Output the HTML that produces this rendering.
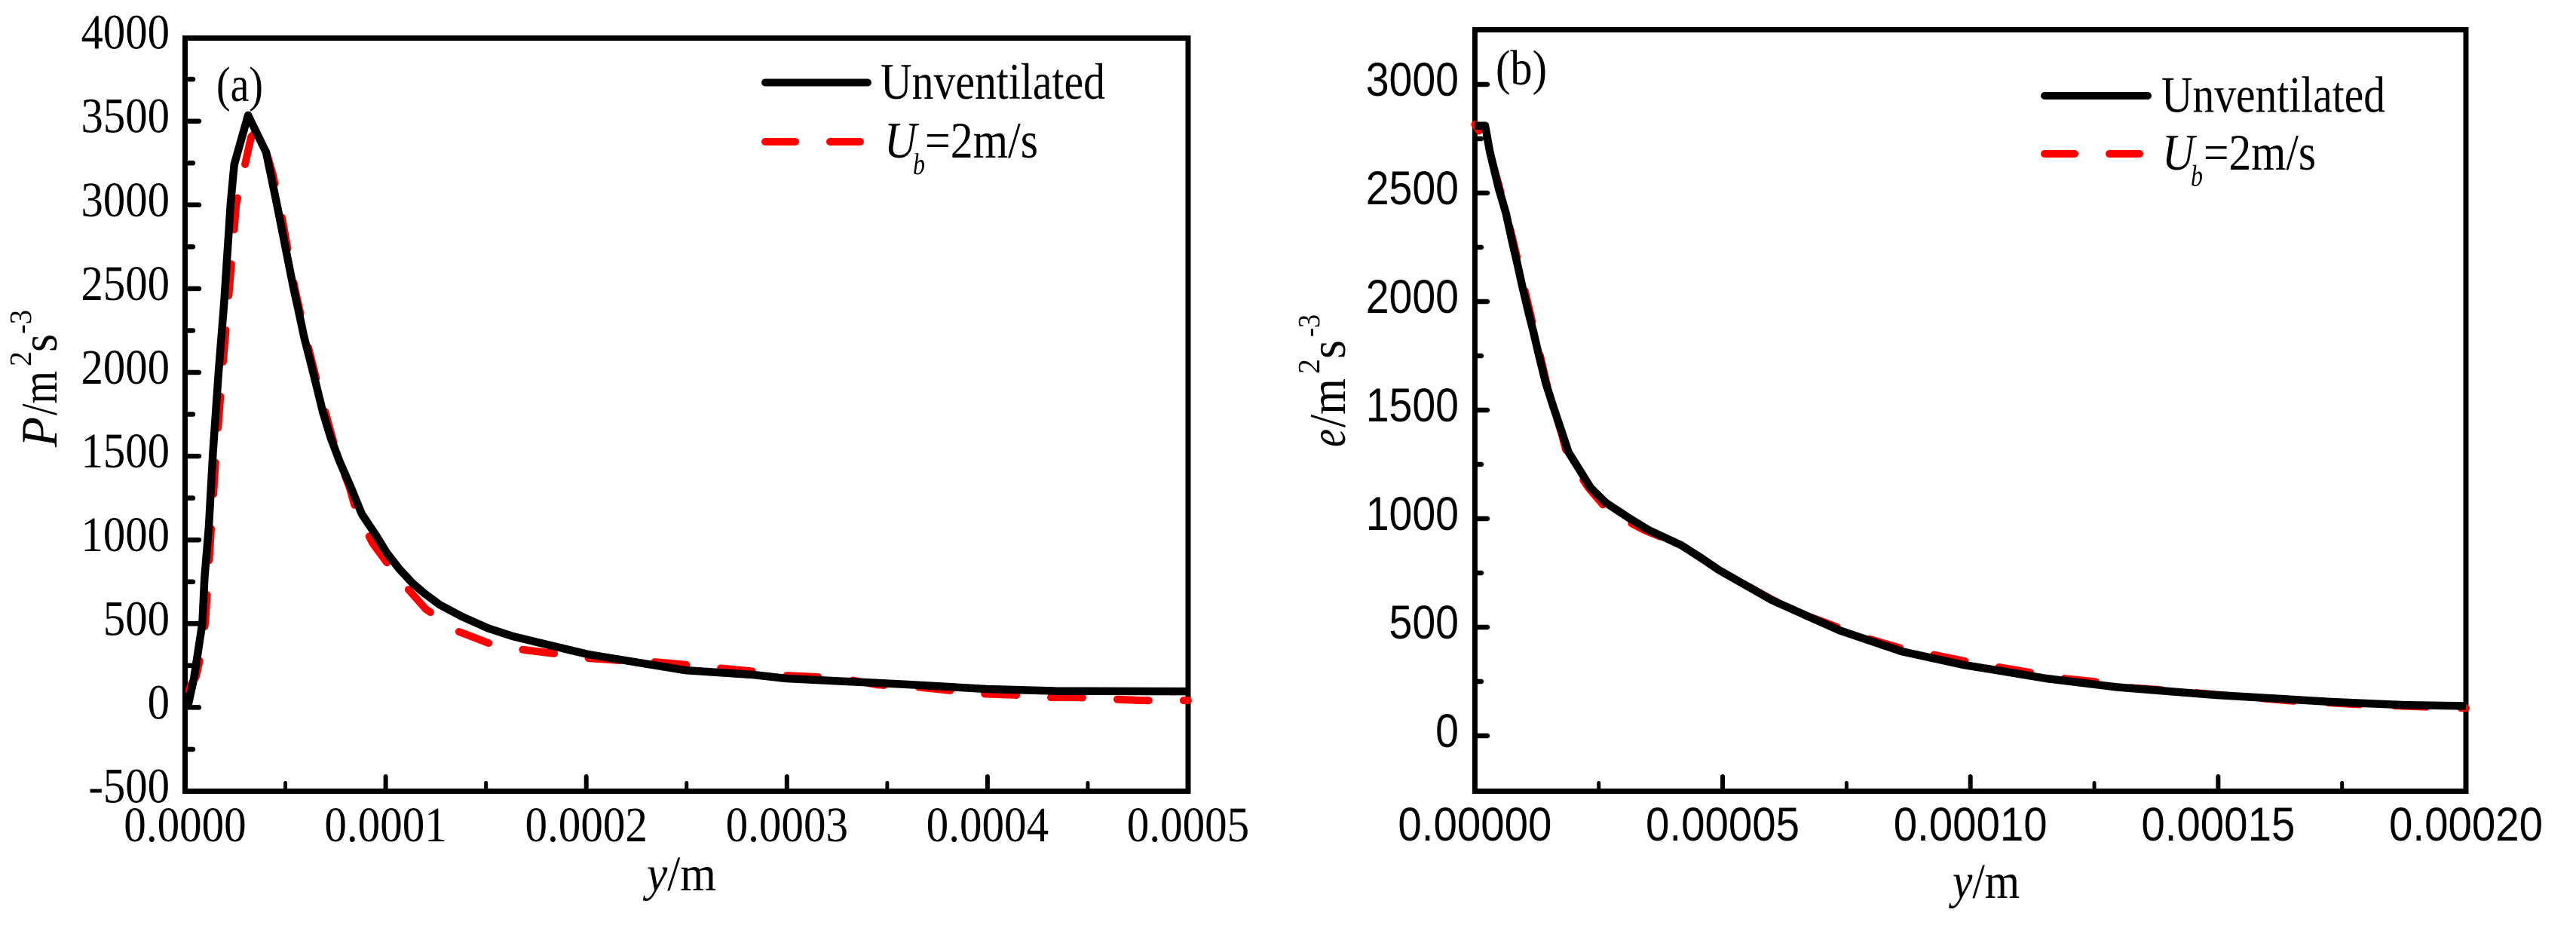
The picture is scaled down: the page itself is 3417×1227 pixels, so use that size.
<!DOCTYPE html>
<html lang="en">
<head>
<meta charset="utf-8">
<title>Turbulence production and dissipation profiles</title>
<style>
html,body{margin:0;padding:0;background:#fff;}
svg{display:block;}
text{fill:#000;}
.serif{font-family:"Liberation Serif",serif;}
.sans{font-family:"Liberation Sans",sans-serif;}
.it{font-style:italic;}
</style>
</head>
<body>
<svg id="figure" xmlns="http://www.w3.org/2000/svg" width="3417" height="1227" viewBox="0 0 3417 1227">
  <rect width="3417" height="1227" fill="#fff"/>

  <g id="panel-a">
    <g id="a-ticks"></g>
    <rect x="245.5" y="50.5" width="1330.5" height="999" fill="none" stroke="#000" stroke-width="7"/>
    <g id="a-series"></g>
    <text class="serif" x="287" y="134" font-size="66" textLength="62" lengthAdjust="spacingAndGlyphs">(a)</text>
    <text class="serif" x="858" y="1181" font-size="66" textLength="92" lengthAdjust="spacingAndGlyphs"><tspan class="it">y</tspan>/m</text>
    <g class="serif" transform="translate(75,593) rotate(-90)">
      <text class="it" x="0" y="0" font-size="68" textLength="40" lengthAdjust="spacingAndGlyphs">P</text>
      <text x="42" y="0" font-size="68" textLength="59" lengthAdjust="spacingAndGlyphs">/m</text>
      <text x="107" y="-34" font-size="41" textLength="20" lengthAdjust="spacingAndGlyphs">2</text>
      <text x="126" y="0" font-size="68" textLength="24" lengthAdjust="spacingAndGlyphs">s</text>
      <text x="150" y="-34" font-size="41" textLength="32" lengthAdjust="spacingAndGlyphs">-3</text>
    </g>
    <g class="serif">
      <line x1="1015" y1="109.5" x2="1151" y2="109.5" stroke="#000" stroke-width="10" stroke-linecap="round"/>
      <text x="1168" y="131" font-size="68" textLength="298" lengthAdjust="spacingAndGlyphs">Unventilated</text>
      <line x1="1015" y1="188" x2="1141" y2="188" stroke="#f00" stroke-width="10" stroke-linecap="round" stroke-dasharray="40 46"/>
      <text class="it" x="1173" y="209" font-size="68" textLength="43" lengthAdjust="spacingAndGlyphs">U</text>
      <text class="it" x="1211" y="231" font-size="40" textLength="16" lengthAdjust="spacingAndGlyphs">b</text>
      <text x="1227" y="209" font-size="68" textLength="150" lengthAdjust="spacingAndGlyphs">=2m/s</text>
    </g>
  </g>

  <g id="panel-b">
    <g id="b-ticks"></g>
    <rect x="1956.4" y="39.5" width="1314.6" height="1010" fill="none" stroke="#000" stroke-width="7"/>
    <g id="b-series"></g>
    <text class="serif" x="1984" y="112" font-size="66" textLength="68" lengthAdjust="spacingAndGlyphs">(b)</text>
    <text class="serif" x="2590" y="1191" font-size="66" textLength="89" lengthAdjust="spacingAndGlyphs"><tspan class="it">y</tspan>/m</text>
    <g class="serif" transform="translate(1784,593) rotate(-90)">
      <text class="it" x="0" y="0" font-size="68" textLength="24" lengthAdjust="spacingAndGlyphs">e</text>
      <text x="26" y="0" font-size="68" textLength="65" lengthAdjust="spacingAndGlyphs">/m</text>
      <text x="97" y="-34" font-size="41" textLength="20" lengthAdjust="spacingAndGlyphs">2</text>
      <text x="117" y="0" font-size="68" textLength="25" lengthAdjust="spacingAndGlyphs">s</text>
      <text x="146" y="-34" font-size="41" textLength="30" lengthAdjust="spacingAndGlyphs">-3</text>
    </g>
    <g class="serif">
      <line x1="2712" y1="127" x2="2849" y2="127" stroke="#000" stroke-width="10" stroke-linecap="round"/>
      <text x="2867" y="148.5" font-size="68" textLength="297" lengthAdjust="spacingAndGlyphs">Unventilated</text>
      <line x1="2712" y1="204" x2="2838" y2="204" stroke="#f00" stroke-width="10" stroke-linecap="round" stroke-dasharray="40 46"/>
      <text class="it" x="2868" y="225" font-size="68" textLength="43" lengthAdjust="spacingAndGlyphs">U</text>
      <text class="it" x="2906" y="246.5" font-size="40" textLength="16" lengthAdjust="spacingAndGlyphs">b</text>
      <text x="2923" y="225" font-size="68" textLength="149" lengthAdjust="spacingAndGlyphs">=2m/s</text>
    </g>
  </g>
</svg>

<script>
// Panel (a): production P against y
const aXMajor = [0, 0.0001, 0.0002, 0.0003, 0.0004, 0.0005];
const aXLabels = ["0.0000", "0.0001", "0.0002", "0.0003", "0.0004", "0.0005"];
const aXMinor = [0.00005, 0.00015, 0.00025, 0.00035, 0.00045];
const aYMajor = [-500, 0, 500, 1000, 1500, 2000, 2500, 3000, 3500, 4000];
const aYLabels = ["-500", "0", "500", "1000", "1500", "2000", "2500", "3000", "3500", "4000"];
const aYMinor = [-250, 250, 750, 1250, 1750, 2250, 2750, 3250, 3750];

const aBlackX = [0, 1.7e-6, 4.4e-6, 6.3e-6, 8.6e-6, 9.7e-6, 11.8e-6, 13.9e-6, 16.7e-6, 19.5e-6, 22.7e-6, 24.5e-6, 31.4e-6, 40.4e-6, 45.7e-6, 53.9e-6, 56.6e-6, 59.3e-6, 62.5e-6, 65.6e-6, 68.7e-6, 72.5e-6, 77.2e-6, 82.7e-6, 88.1e-6, 95.6e-6, 100.5e-6, 106.9e-6, 113.2e-6, 119.3e-6, 126.8e-6, 138.1e-6, 150.8e-6, 163.3e-6, 175.7e-6, 188.3e-6, 200.9e-6, 249.4e-6, 283.5e-6, 299.7e-6, 358.7e-6, 399.7e-6, 433.9e-6, 500e-6];
const aBlackY = [0, 24, 173, 322, 502, 772, 1073, 1523, 2000, 2423, 3008, 3241, 3535, 3314, 3008, 2513, 2365, 2213, 2063, 1914, 1763, 1613, 1464, 1313, 1155, 1020, 924, 825, 744, 681, 614, 542, 474, 425, 389, 353, 317, 222, 195, 173, 138, 110, 98, 96];

const aRedX = [0, 3.2e-6, 5.5e-6, 8e-6, 10.1e-6, 13e-6, 15.5e-6, 18.5e-6, 21.5e-6, 25.5e-6, 29.5e-6, 32.9e-6, 37e-6, 43.6e-6, 47e-6, 54.7e-6, 60.1e-6, 66.4e-6, 73.3e-6, 77.2e-6, 82e-6, 85.1e-6, 93.4e-6, 105.8e-6, 120e-6, 136.6e-6, 152.2e-6, 168.9e-6, 184.7e-6, 201.2e-6, 217e-6, 233.6e-6, 250.5e-6, 265.1e-6, 282.4e-6, 298.6e-6, 315.1e-6, 330.1e-6, 345.5e-6, 365.8e-6, 380e-6, 394.4e-6, 412.8e-6, 427e-6, 445e-6, 458.7e-6, 477.5e-6, 500e-6];
const aRedY = [40, 141, 186, 322, 515, 1073, 1523, 2000, 2423, 3008, 3220, 3404, 3460, 3188, 3008, 2500, 2213, 1914, 1613, 1464, 1313, 1181, 983, 780, 587, 452, 380, 344, 321, 294, 281, 272, 254, 236, 216, 191, 182, 167, 135, 121, 103, 83, 75, 60, 60, 51, 42, 42];

// Panel (b): dissipation e against y
const bXMajor = [0, 0.00005, 0.0001, 0.00015, 0.0002];
const bXLabels = ["0.00000", "0.00005", "0.00010", "0.00015", "0.00020"];
const bXMinor = [0.000025, 0.000075, 0.000125, 0.000175];
const bYMajor = [0, 500, 1000, 1500, 2000, 2500, 3000];
const bYLabels = ["0", "500", "1000", "1500", "2000", "2500", "3000"];
const bYMinor = [250, 750, 1250, 1750, 2250, 2750];

const bBlackX = [0, 2.07e-6, 2.98e-6, 4.81e-6, 6.28e-6, 7.39e-6, 8.56e-6, 9.67e-6, 10.89e-6, 11.8e-6, 12.97e-6, 14.24e-6, 15.86e-6, 17.54e-6, 18.9e-6, 21.08e-6, 23.36e-6, 26.4e-6, 30.97e-6, 35.03e-6, 41.61e-6, 45.67e-6, 49.22e-6, 59.9e-6, 73.5e-6, 86.1e-6, 98.7e-6, 105.8e-6, 115.3e-6, 129.6e-6, 149.4e-6, 173.2e-6, 187.4e-6, 200e-6];
const bBlackY = [2810, 2810, 2694, 2521, 2406, 2289, 2174, 2059, 1942, 1861, 1747, 1629, 1514, 1399, 1306, 1226, 1143, 1074, 1005, 948, 878, 819, 764, 625, 486, 389, 326, 300, 264, 224, 188, 156, 142, 137];

const bRedX = [0, 2.52e-6, 5e-6, 7.6e-6, 10e-6, 13.2e-6, 14.4e-6, 15.8e-6, 17.4e-6, 18.5e-6, 20.5e-6, 22.9e-6, 26e-6, 27.48e-6, 34.13e-6, 41.61e-6, 49.22e-6, 59.9e-6, 67.1e-6, 73.5e-6, 79.8e-6, 86.6e-6, 92.8e-6, 99.7e-6, 105.8e-6, 112.9e-6, 118.9e-6, 126e-6, 131.9e-6, 139.1e-6, 145.4e-6, 152.5e-6, 158.1e-6, 165.3e-6, 171.6e-6, 177.1e-6, 189.8e-6, 200e-6];
const bRedY = [2816, 2729, 2521, 2289, 2059, 1747, 1629, 1514, 1399, 1306, 1226, 1143, 1060, 1028, 948, 878, 764, 628, 552, 497, 444, 399, 372, 340, 316, 288, 264, 247, 222, 210, 198, 184, 174, 160, 153, 146, 135, 127];

const SVG_NS = "http://www.w3.org/2000/svg";
const DASH_ON = 42;
const DASH_OFF = 46;

// Axis functions
function xScaleA(v) { return 245.5 + v / 0.0005 * 1330.5; }
function yScaleA(v) { return 938.4 - v * 0.2222; }
function xScaleB(v) { return 1956.4 + v / 0.0002 * 1314.6; }
function yScaleB(v) { return 976 - v * 0.288; }

function tickLine(parent, x1, y1, x2, y2, width, name) {
  const el = document.createElementNS(SVG_NS, "line");
  el.setAttribute("x1", x1);
  el.setAttribute("y1", y1);
  el.setAttribute("x2", x2);
  el.setAttribute("y2", y2);
  el.setAttribute("stroke", "#000");
  el.setAttribute("stroke-width", width);
  el.setAttribute("stroke-linecap", "round");
  
  
  parent.appendChild(el);
}

function tickLabel(parent, x, y, label, anchor, family, size, squeeze, name) {
  const el = document.createElementNS(SVG_NS, "text");
  el.setAttribute("transform", "translate(" + x + "," + y + ") scale(" + squeeze + ",1)");
  el.setAttribute("text-anchor", anchor);
  el.setAttribute("class", family);
  el.setAttribute("font-size", size);
  
  
  el.textContent = label;
  parent.appendChild(el);
}

// Offset so a dash begins where the curve first reaches anchorX
function dashOffsetAt(xs, ys, xScale, yScale, anchorX) {
  let len = 0;
  for (let i = 1; i < xs.length && xs[i - 1] < anchorX; i++) {
    len += Math.hypot(xScale(xs[i]) - xScale(xs[i - 1]), yScale(ys[i]) - yScale(ys[i - 1]));
  }
  const period = DASH_ON + DASH_OFF;
  return period - (len % period);
}

function drawSeries(parent, xs, ys, xScale, yScale, color, dashAnchor, name) {
  const el = document.createElementNS(SVG_NS, "path");
  let d = "";
  for (let i = 0; i < xs.length; i++) {
    d += (i ? "L" : "M") + xScale(xs[i]).toFixed(1) + " " + yScale(ys[i]).toFixed(1);
  }
  el.setAttribute("d", d);
  el.setAttribute("fill", "none");
  el.setAttribute("stroke", color);
  el.setAttribute("stroke-linejoin", "round");
  if (dashAnchor) {
    el.setAttribute("stroke-width", "10");
    el.setAttribute("stroke-dasharray", DASH_ON + " " + DASH_OFF);
    el.setAttribute("stroke-dashoffset", dashOffsetAt(xs, ys, xScale, yScale, dashAnchor).toFixed(1));
    el.setAttribute("stroke-linecap", "round");
  } else {
    el.setAttribute("stroke-width", "10.5");
  }
  
  
  parent.appendChild(el);
}

// Panel (a) ticks and labels
const aTicks = document.getElementById("a-ticks");
aXMajor.forEach(function (v, i) {
  const x = xScaleA(v);
  if (i > 0 && i < aXMajor.length - 1) tickLine(aTicks, x, 1049, x, 1030, 6, "a-x-major-tick");
  tickLabel(aTicks, x, 1116, aXLabels[i], "middle", "serif", 66, 0.895, "a-x-tick-label");
});
aXMinor.forEach(function (v) {
  const x = xScaleA(v);
  tickLine(aTicks, x, 1049, x, 1038.5, 5, "a-x-minor-tick");
});
aYMajor.forEach(function (v, i) {
  const y = yScaleA(v);
  if (i > 0 && i < aYMajor.length - 1) tickLine(aTicks, 246, y, 264, y, 6.5, "a-y-major-tick");
  tickLabel(aTicks, 225, y + 15, aYLabels[i], "end", "serif", 66, 0.89, "a-y-tick-label");
});
aYMinor.forEach(function (v) {
  const y = yScaleA(v);
  tickLine(aTicks, 246, y, 256, y, 6.5, "a-y-minor-tick");
});

// Panel (b) ticks and labels
const bTicks = document.getElementById("b-ticks");
bXMajor.forEach(function (v, i) {
  const x = xScaleB(v);
  if (i > 0 && i < bXMajor.length - 1) tickLine(bTicks, x, 1049, x, 1030, 6, "b-x-major-tick");
  tickLabel(bTicks, x, 1115, bXLabels[i], "middle", "sans", 63, 0.896, "b-x-tick-label");
});
bXMinor.forEach(function (v) {
  const x = xScaleB(v);
  tickLine(bTicks, x, 1049, x, 1038.5, 5, "b-x-minor-tick");
});
bYMajor.forEach(function (v, i) {
  const y = yScaleB(v);
  tickLine(bTicks, 1957, y, 1973, y, 6.5, "b-y-major-tick");
  tickLabel(bTicks, 1935, y + 15, bYLabels[i], "end", "sans", 63, 0.88, "b-y-tick-label");
});
bYMinor.forEach(function (v) {
  const y = yScaleB(v);
  tickLine(bTicks, 1957, y, 1965, y, 6.5, "b-y-minor-tick");
});

// Series
const aSeries = document.getElementById("a-series");
drawSeries(aSeries, aRedX, aRedY, xScaleA, yScaleA, "#f00", 136.6e-6, "a-series-ub-2ms");
drawSeries(aSeries, aBlackX, aBlackY, xScaleA, yScaleA, "#000", null, "a-series-unventilated");

const bSeries = document.getElementById("b-series");
drawSeries(bSeries, bRedX, bRedY, xScaleB, yScaleB, "#f00", 67.1e-6, "b-series-ub-2ms");
drawSeries(bSeries, bBlackX, bBlackY, xScaleB, yScaleB, "#000", null, "b-series-unventilated");
</script>
</body>
</html>
